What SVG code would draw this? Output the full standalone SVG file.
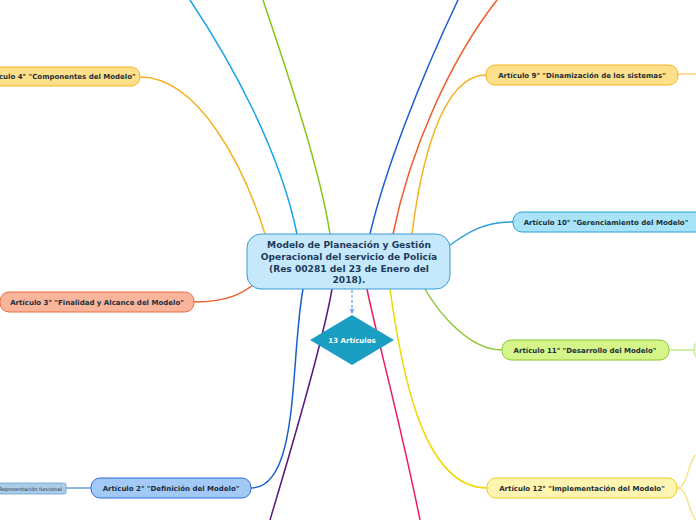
<svg xmlns="http://www.w3.org/2000/svg" width="696" height="520" viewBox="0 0 696 520">
<defs>
<marker id="arr" viewBox="0 0 10 10" refX="9" refY="5" markerWidth="5" markerHeight="5" orient="auto"><path d="M0,1 L9,5 L0,9 z" fill="#6a9ef0"/></marker>
</defs>
<style>
.c{fill:none;stroke-width:1.5}
.t{font-family:"DejaVu Sans",Verdana,sans-serif;font-weight:bold;font-size:7px;fill:#1c2e3a;text-anchor:middle}
.ct{font-family:"DejaVu Sans",Verdana,sans-serif;font-weight:bold;font-size:9.1px;fill:#1e3a5c;text-anchor:middle}
</style>
<rect width="696" height="520" fill="#ffffff"/>
<g id="connectors">
<path class="c" stroke="#1aa3e8" d="M190,0 C230,60 280,150 297,234"/>
<path class="c" stroke="#8bc21a" d="M263,0 C290,80 320,170 330,234"/>
<path class="c" stroke="#1a5fd0" d="M458,0 C420,80 385,170 370,234"/>
<path class="c" stroke="#f05a28" d="M497,0 C450,60 410,150 393,234"/>
<path class="c" stroke="#5a1a7a" d="M270,520 C300,420 325,330 332,289"/>
<path class="c" stroke="#f0166e" d="M420,520 C400,420 375,330 367,289"/>
<path class="c" stroke="#f5b324" d="M140,77 C200,77 245,170 265,234"/>
<path class="c" stroke="#f05a28" d="M194,302 C230,302 245,292 258,281"/>
<path class="c" stroke="#1a5fd0" d="M251,488 C300,488 290,360 303,289"/>
<path class="c" stroke="#f5b324" d="M486,75 C440,75 420,170 412,234"/>
<path class="c" stroke="#2aa0d9" d="M513,222 C480,222 465,235 450,245"/>
<path class="c" stroke="#8cc630" d="M502,350 C470,350 440,315 425,289"/>
<path class="c" stroke="#f0d800" d="M487,488 C420,488 400,360 390,289"/>
<path class="c" stroke="#6f9fd0" stroke-width="1" d="M66,488 L91,488"/>
<path class="c" stroke="#ffd27a" d="M678,74 L696,74"/>
<path class="c" stroke="#c8e890" d="M669,350 L696,350"/>
<path class="c" stroke="#f5e48a" stroke-width="1" d="M677,488 C688,488 688,460 696,455 M677,488 C688,488 688,512 696,520"/>
<path fill="none" stroke="#6a9ef0" stroke-width="1.2" stroke-dasharray="3,2" d="M352,290 L352,314" marker-end="url(#arr)"/>
</g>
<g id="central">
<rect x="247" y="234" width="203" height="55" rx="14" fill="#c5e9fb" stroke="#3a9ad9" stroke-width="1"/>
<text class="ct" x="349" y="248">Modelo de Planeación y Gestión</text>
<text class="ct" x="349" y="260">Operacional del servicio de Policía</text>
<text class="ct" x="349" y="272">(Res 00281 del 23 de Enero del</text>
<text class="ct" x="349" y="283">2018).</text>
</g>
<g id="diamond">
<polygon points="352,315 394,340 352,365 310,340" fill="#1a9ec1"/>
<text class="t" x="352" y="343" style="fill:#ffffff">13 Artículos</text>
</g>
<g id="art4">
<rect x="-60" y="67" width="200" height="19" rx="9" fill="#ffe08a" stroke="#f5b324"/>
<text class="t" x="60" y="79">Artículo 4° "Componentes del Modelo"</text>
</g>
<g id="art3">
<rect x="0" y="292" width="194" height="20" rx="9" fill="#f9b49c" stroke="#f06b3c"/>
<text class="t" x="97" y="305">Artículo 3° "Finalidad y Alcance del Modelo"</text>
</g>
<g id="art2">
<rect x="91" y="478" width="160" height="20" rx="9" fill="#a3c9f7" stroke="#2a6ad9"/>
<text class="t" x="171" y="491">Artículo 2° "Definición del Modelo"</text>
</g>
<g id="rep">
<rect x="-30" y="483" width="96" height="11" rx="2" fill="#a9cce8" stroke="#6f9fd0" stroke-width="0.8"/>
<text x="62" y="490.5" style="font-family:'DejaVu Sans',sans-serif;font-size:5px;fill:#1c2e3a;text-anchor:end">Representación funcional</text>
</g>
<g id="art9">
<rect x="486" y="65" width="192" height="20" rx="9" fill="#ffe08a" stroke="#f5b324"/>
<text class="t" x="582" y="78">Artículo 9° "Dinamización de los sistemas"</text>
</g>
<g id="art10">
<rect x="513" y="212" width="196" height="20" rx="9" fill="#a8e3f7" stroke="#2aa0d9"/>
<text class="t" x="606" y="225">Artículo 10° "Gerenciamiento del Modelo"</text>
</g>
<g id="art11">
<rect x="502" y="340" width="167" height="20" rx="9" fill="#d5f58a" stroke="#8cc630"/>
<text class="t" x="585" y="353">Artículo 11° "Desarrollo del Modelo"</text>
</g>
<g id="art11child">
<rect x="694" y="343" width="20" height="14" rx="4" fill="#eaf8d0" stroke="#c8e890"/>
</g>
<g id="art12">
<rect x="487" y="478" width="190" height="20" rx="9" fill="#fff4b0" stroke="#e8d020"/>
<text class="t" x="582" y="491">Artículo 12° "Implementación del Modelo"</text>
</g>
</svg>
